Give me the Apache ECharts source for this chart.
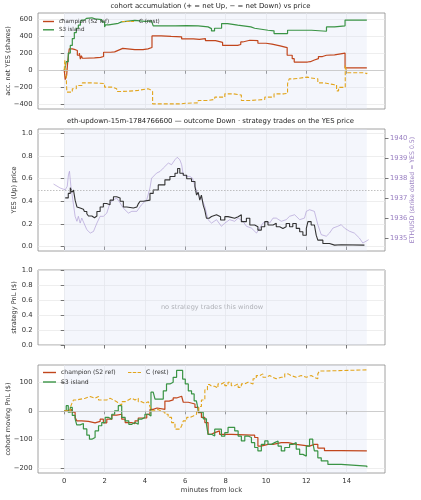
<!DOCTYPE html>
<html>
<head>
<meta charset="utf-8">
<script src="https://cdn.jsdelivr.net/npm/echarts@6/dist/echarts.min.js"></script>
<style>
html, body { margin: 0; padding: 0; background: #fff; }
#chart { width: 421px; height: 500px; }
</style>
</head>
<body>
<div id="chart"></div>
<script>
// ---- data (minutes from lock, value) ----
const minuteTicks = [0, 2, 4, 6, 8, 10, 12, 14];
const accTicks = [-400, -200, 0, 200, 400, 600];
const priceTicks = [0, 0.2, 0.4, 0.6, 0.8, 1.0];
const ethTicks = [1935, 1936, 1937, 1938, 1939, 1940];
const pnlTicks = [-200, -100, 0, 100];

// panel 1: accumulated net YES shares
const accChampion = [[0,0],[0.05,-110],[0.12,-60],[0.18,120],[0.25,250],[0.4,240],[0.55,230],[0.65,175],[0.75,200],[0.8,130],[0.85,170],[0.9,140],[1.0,145],[1.5,150],[1.8,160],[1.95,210],[2.3,215],[2.5,235],[2.7,255],[2.9,240],[3.5,240],[3.9,250],[4.15,265],[4.35,400],[4.8,395],[5.3,390],[5.82,365],[6.4,360],[6.7,370],[7.0,345],[7.5,325],[7.85,290],[8.6,300],[8.75,330],[8.85,350],[9.2,345],[9.6,315],[10.0,305],[10.3,285],[10.7,265],[11.05,175],[11.3,135],[11.4,96],[12.06,100],[12.2,120],[12.4,135],[12.6,160],[12.8,175],[13.0,180],[13.4,200],[13.92,28],[15.0,28]];
const accIsland = [[0,0],[0.05,40],[0.1,100],[0.2,200],[0.3,290],[0.4,370],[0.5,440],[0.6,490],[0.7,526],[0.8,560],[0.87,585],[1.0,605],[1.1,612],[1.37,600],[1.53,590],[1.86,565],[2.0,506],[2.05,530],[2.2,548],[2.68,565],[2.84,582],[3.5,570],[4.0,575],[4.33,580],[4.41,518],[5.5,520],[6.07,518],[6.64,506],[7.13,486],[7.3,459],[7.45,490],[7.8,545],[8.1,526],[8.6,506],[9.25,490],[9.44,467],[10.1,460],[10.4,428],[11.07,467],[12.26,455],[13.0,506],[13.4,518],[13.92,585],[15.0,580]];
const accRest = [[0,0],[0.03,116],[0.08,20],[0.13,-255],[0.3,-255],[0.4,-216],[0.6,-177],[0.9,-147],[1.37,-147],[1.45,-155],[2.0,-197],[2.4,-215],[2.6,-247],[2.85,-240],[3.5,-235],[3.66,-216],[4.15,-225],[4.25,-247],[4.38,-392],[5.75,-385],[6.0,-380],[6.64,-353],[7.13,-340],[7.46,-314],[7.96,-275],[8.4,-290],[8.78,-353],[9.2,-341],[9.94,-314],[10.4,-275],[10.9,-270],[11.07,-158],[11.15,-100],[11.4,-80],[12.06,-90],[12.2,-100],[12.57,-147],[12.9,-170],[13.4,-170],[13.5,-240],[13.6,-200],[13.93,57],[14.0,-29],[14.88,-40],[15.0,-30]];

// panel 2: YES price and ETH/USD
const yesPrice = [[0.05,0.43],[0.2,0.47],[0.3,0.52],[0.38,0.48],[0.46,0.50],[0.5,0.455],[0.54,0.41],[0.63,0.35],[0.7,0.34],[0.79,0.33],[0.95,0.34],[1.0,0.31],[1.12,0.29],[1.2,0.27],[1.37,0.255],[1.5,0.27],[1.62,0.31],[1.78,0.35],[1.94,0.38],[2.1,0.37],[2.27,0.41],[2.44,0.44],[2.6,0.43],[2.77,0.40],[2.93,0.35],[3.1,0.34],[3.43,0.35],[3.6,0.34],[3.68,0.38],[3.76,0.40],[3.92,0.41],[4.25,0.47],[4.41,0.50],[4.66,0.545],[4.99,0.59],[5.24,0.62],[5.49,0.648],[5.62,0.69],[5.73,0.648],[5.9,0.63],[6.07,0.60],[6.31,0.575],[6.48,0.53],[6.56,0.455],[6.64,0.48],[6.72,0.41],[6.8,0.455],[6.89,0.366],[6.97,0.32],[7.05,0.25],[7.18,0.265],[7.3,0.28],[7.55,0.264],[7.75,0.234],[7.96,0.264],[8.12,0.25],[8.45,0.264],[8.62,0.28],[8.78,0.22],[9.03,0.25],[9.2,0.19],[9.44,0.175],[9.6,0.145],[9.77,0.175],[9.94,0.22],[10.1,0.19],[10.35,0.205],[10.51,0.175],[10.68,0.16],[10.84,0.175],[11.0,0.204],[11.17,0.175],[11.33,0.204],[11.5,0.16],[11.67,0.13],[11.83,0.10],[12.0,0.16],[12.08,0.22],[12.24,0.19],[12.4,0.19],[12.49,0.10],[12.57,0.056],[12.82,0.027],[13.15,0.012],[13.4,0.015],[13.73,0.012],[14.88,0.008]];
const ethUsd = [[-0.53,1937.71],[-0.2,1937.51],[0.05,1937.42],[0.15,1937.6],[0.21,1938.17],[0.26,1938.35],[0.33,1937.6],[0.46,1936.67],[0.54,1936.09],[0.63,1935.84],[0.7,1936.09],[0.79,1935.75],[0.87,1936.0],[0.95,1935.9],[1.12,1935.42],[1.29,1935.25],[1.45,1935.33],[1.62,1935.75],[1.78,1936.09],[1.94,1936.09],[2.11,1936.25],[2.27,1936.76],[2.44,1936.92],[2.6,1937.0],[2.77,1936.76],[2.93,1936.5],[3.18,1936.25],[3.35,1936.34],[3.6,1936.34],[3.67,1936.42],[3.83,1936.67],[4.09,1936.92],[4.25,1937.51],[4.33,1938.0],[4.58,1938.26],[4.75,1938.34],[4.91,1938.51],[5.16,1938.76],[5.32,1938.68],[5.49,1938.93],[5.6,1939.05],[5.73,1938.93],[5.82,1938.68],[5.9,1938.17],[6.07,1938.09],[6.23,1938.09],[6.36,1938.0],[6.48,1937.59],[6.64,1937.17],[6.8,1937.0],[6.97,1936.59],[7.13,1935.92],[7.22,1936.0],[7.3,1935.75],[7.55,1935.92],[7.79,1935.59],[7.96,1935.75],[8.2,1935.92],[8.45,1935.84],[8.62,1936.0],[8.86,1935.84],[9.03,1935.59],[9.28,1935.5],[9.53,1935.25],[9.69,1935.5],[9.85,1935.75],[10.02,1935.84],[10.18,1935.75],[10.35,1936.0],[10.51,1936.0],[10.76,1935.84],[11.0,1935.92],[11.17,1936.09],[11.42,1936.17],[11.67,1935.92],[11.91,1936.0],[12.0,1936.34],[12.16,1936.42],[12.4,1936.34],[12.57,1935.67],[12.74,1935.17],[12.99,1935.09],[13.15,1935.25],[13.32,1935.5],[13.56,1935.59],[13.73,1935.67],[13.89,1935.5],[14.14,1935.34],[14.38,1935.25],[14.63,1935.0],[14.8,1934.75],[14.96,1934.84],[15.09,1934.92]];

// panel 4: cohort moving PnL ($)
const pnlChampion = [[0,0],[0.1,2],[0.21,4],[0.38,-5],[0.54,-23],[0.62,-35],[0.87,-37],[1.2,-42],[1.53,-37],[1.78,-29],[1.94,-42],[2.11,-29],[2.36,-15],[2.6,-12],[2.85,-29],[3.02,-41],[3.35,-45],[3.51,-35],[3.67,-25],[3.92,-25],[4.09,-12],[4.25,5],[4.41,10],[4.6,5],[4.99,34],[5.2,38],[5.4,45],[5.57,51],[5.82,45],[5.9,30],[6.15,24],[6.48,12],[6.64,-6],[6.8,-23],[6.97,-41],[7.13,-82],[7.3,-76],[7.46,-70],[7.7,-82],[8.3,-85],[9.28,-85],[9.44,-93],[9.6,-123],[9.75,-117],[10.1,-117],[10.35,-111],[10.76,-111],[11.1,-117],[11.5,-123],[12.16,-117],[12.4,-117],[12.57,-130],[12.9,-139],[13.73,-140],[15.0,-140]];
const pnlIsland = [[0,0],[0.1,18],[0.2,-5],[0.3,12],[0.4,-16],[0.54,-28],[0.62,-49],[0.79,-44],[0.95,-63],[1.12,-85],[1.25,-99],[1.37,-93],[1.53,-70],[1.7,-52],[1.86,-41],[2.03,-23],[2.2,-29],[2.36,-12],[2.5,0],[2.68,18],[2.85,-23],[3.02,-35],[3.2,-47],[3.35,-41],[3.5,-47],[3.67,-29],[3.83,-23],[4.0,-12],[4.17,-18],[4.3,65],[4.41,59],[4.5,41],[4.91,70],[5.07,94],[5.24,100],[5.4,117],[5.57,141],[5.87,111],[6.0,94],[6.15,70],[6.31,59],[6.44,35],[6.55,41],[6.6,18],[6.67,-5],[6.89,-28],[7.05,-47],[7.13,-82],[7.3,-88],[7.46,-64],[7.79,-88],[7.96,-76],[8.12,-58],[8.45,-70],[8.62,-88],[8.78,-105],[8.95,-88],[9.11,-93],[9.28,-111],[9.44,-128],[9.6,-140],[9.77,-117],[9.94,-105],[10.1,-117],[10.27,-111],[10.43,-105],[10.6,-123],[10.76,-140],[10.93,-128],[11.17,-117],[11.33,-111],[11.5,-134],[11.67,-152],[11.83,-158],[12.0,-123],[12.16,-99],[12.32,-111],[12.4,-140],[12.57,-164],[12.74,-175],[13.07,-187],[13.73,-193],[15.0,-197]];
const pnlRest = [[0,0],[0.13,3],[0.2,-5],[0.3,12],[0.38,26],[0.46,38],[0.62,44],[1.04,50],[1.29,44],[1.53,50],[1.7,38],[2.11,44],[2.27,38],[2.44,32],[2.6,26],[2.7,20],[2.85,32],[3.02,38],[3.18,44],[3.35,38],[3.51,44],[3.67,32],[3.83,26],[4.0,32],[4.17,26],[4.25,15],[4.33,0],[4.5,5],[4.65,0],[4.8,-5],[4.99,-12],[5.15,-23],[5.32,-41],[5.49,-64],[5.73,-70],[5.82,-52],[5.9,-35],[6.07,-23],[6.23,-18],[6.4,-12],[6.56,0],[6.67,15],[6.8,38],[6.97,73],[7.1,92],[7.2,86],[7.3,86],[7.45,80],[7.62,94],[7.79,100],[7.96,88],[8.12,100],[8.28,88],[8.45,94],[8.62,82],[8.78,94],[8.95,100],[9.11,105],[9.2,94],[9.36,112],[9.52,123],[9.69,129],[9.85,117],[10.02,123],[10.18,117],[10.35,112],[10.51,117],[10.76,117],[10.93,129],[11.1,123],[11.25,117],[11.5,123],[11.75,117],[12.0,123],[12.24,117],[12.4,112],[12.57,129],[12.65,139],[12.9,143],[15.0,143]];

// ---- styling ----
const FONT = 'DejaVu Sans';
const C_CHAMP = '#c1461c';
const C_ISLAND = '#3a9445';
const C_REST = '#e2a51d';
const C_ETH = '#a58fcf';
const C_ETH_TXT = '#9a80c2';
const SHADE = 'rgba(222,226,245,0.32)';
const xMin = -1.3, xMax = 15.9;

const minus = v => String(v).replace('-', '\u2212');

function grid(top, height) {
    return { left: 38, right: 36, top: top, height: height, show: true, borderColor: '#8a8a8a',
        borderWidth: 0.8, backgroundColor: 'transparent', containLabel: false, outerBoundsMode: 'none' };
}
function xAx(idx, last) {
    return {
        type: 'value', gridIndex: idx, min: xMin, max: xMax,
        axisLine: { show: false },
        axisTick: { show: true, length: 3.5, customValues: minuteTicks, lineStyle: { color: '#555', width: 0.8 } },
        axisLabel: { show: last, customValues: minuteTicks, margin: 5, fontSize: 6.8, color: '#333', fontFamily: FONT },
        splitLine: { show: true, lineStyle: { color: '#e6e6e6', width: 0.7 } },
        name: last ? 'minutes from lock' : '', nameLocation: 'middle', nameGap: 14, nameMoveOverlap: false,
        nameTextStyle: { fontSize: 6.8, color: '#333', fontFamily: FONT }
    };
}
function yAx(idx, min, max, ticks, name, gap, fmt) {
    return {
        type: 'value', gridIndex: idx, min: min, max: max,
        axisLine: { show: false },
        axisTick: { show: true, length: 3.5, customValues: ticks, lineStyle: { color: '#555', width: 0.8 } },
        axisLabel: { customValues: ticks, margin: 5.5, fontSize: 6.8, color: '#333', fontFamily: FONT, formatter: fmt },
        splitLine: { show: true, lineStyle: { color: '#e6e6e6', width: 0.7 } },
        name: name, nameLocation: 'middle', nameGap: gap, nameMoveOverlap: false,
        nameTextStyle: { fontSize: 6.6, color: '#333', fontFamily: FONT }
    };
}
function shade() {
    return { silent: true, itemStyle: { color: SHADE }, data: [[{ xAxis: 0 }, { xAxis: 15 }]] };
}
function zeroLine(y, color, type) {
    return { silent: true, symbol: 'none', label: { show: false },
        lineStyle: { color: color, width: 0.8, type: type }, data: [{ yAxis: y }] };
}
function line(name, data, xi, yi, color, width, type, extra) {
    return Object.assign({
        name: name, type: 'line', xAxisIndex: xi, yAxisIndex: yi, data: data,
        step: 'end', showSymbol: false, symbol: 'none', animation: false,
        lineStyle: { color: color, width: width, type: type || 'solid' },
        itemStyle: { color: color }
    }, extra || {});
}
// legend icons drawn as flat bars (solid) or a row of dashes
const DASH_ICON = 'path://M0,0h3.6v1h-3.6z M5,0h3.6v1h-3.6z M10,0h3.6v1h-3.6z';
function legendBox(names, left, top, w, fs, gap, icon) {
    return { data: names, orient: 'vertical', left: left, top: top, padding: 0, itemWidth: w, itemHeight: 1.4,
        icon: icon, itemGap: gap, selectedMode: false,
        textStyle: { fontSize: fs, color: '#333', fontFamily: FONT, lineHeight: 7 } };
}

const chart = echarts.init(document.getElementById('chart'));
chart.setOption({
    animation: false,
    backgroundColor: '#fff',
    textStyle: { fontFamily: FONT },
    title: [
        { text: 'cohort accumulation (+ = net Up, \u2212 = net Down) vs price', left: 'center', top: 3, padding: 0,
          textStyle: { fontSize: 6.9, fontWeight: 'normal', color: '#222', fontFamily: FONT } },
        { text: 'eth-updown-15m-1784766600 \u2014 outcome Down \u00b7 strategy trades on the YES price', left: 'center', top: 118, padding: 0,
          textStyle: { fontSize: 6.9, fontWeight: 'normal', color: '#222', fontFamily: FONT } }
    ],
    legend: [
        legendBox(['champion (S2 ref)', 'S3 island'], 43, 18, 11, 5.6, 1.3, 'rect'),
        legendBox(['C (rest)'], 122, 18, 12, 5.6, 1.3, DASH_ICON),
        legendBox(['champion (S2 ref)', 'S3 island'], 43, 369, 13, 6.1, 2.5, 'rect'),
        legendBox(['C (rest)'], 128, 369, 13, 6.1, 2.5, DASH_ICON)
    ],
    grid: [grid(13, 96), grid(129, 122), grid(270, 75), grid(365, 108)],
    xAxis: [xAx(0, false), xAx(1, false), xAx(2, false), xAx(3, true)],
    yAxis: [
        yAx(0, -452, 668, accTicks, 'acc. net YES (shares)', 26, minus),
        yAx(1, -0.04, 1.04, priceTicks, 'YES (Up) price', 20, v => v.toFixed(1)),
        Object.assign(yAx(1, 1934.35, 1940.47, ethTicks, 'ETH/USD (strike dotted = YES 0.5)', 24, null), {
            position: 'right',
            splitLine: { show: false },
            axisLabel: { customValues: ethTicks, margin: 5, fontSize: 6.8, color: C_ETH_TXT, fontFamily: FONT,
                         formatter: v => String(Math.round(v)) },
            nameTextStyle: { fontSize: 6.2, color: C_ETH_TXT, fontFamily: FONT }
        }),
        yAx(2, 0, 1, priceTicks, 'strategy PnL ($)', 20, v => v.toFixed(1)),
        yAx(3, -217, 160, pnlTicks, 'cohort moving PnL ($)', 26, minus)
    ],
    graphic: [
        { type: 'text', x: 212, y: 307, silent: true,
          style: { text: 'no strategy trades this window', fill: '#999', font: '6.6px "DejaVu Sans"',
                   textAlign: 'center', textVerticalAlign: 'middle' } }
    ],
    series: [
        line('champion (S2 ref)', accChampion, 0, 0, C_CHAMP, 1.2, 'solid',
            { markArea: shade(), markLine: zeroLine(0, '#c4c4c4', 'solid') }),
        line('S3 island', accIsland, 0, 0, C_ISLAND, 1.2),
        line('C (rest)', accRest, 0, 0, C_REST, 1.1, [4, 2]),

        line('ETH/USD', ethUsd, 1, 2, C_ETH, 0.9, 'solid',
            { step: false, lineStyle: { color: C_ETH, width: 0.9, opacity: 0.65 }, markArea: shade() }),
        line('YES price', yesPrice, 1, 1, '#333', 1.1, 'solid',
            { markLine: zeroLine(0.5, '#b0b0b0', [1.5, 1.5]) }),

        { type: 'line', xAxisIndex: 2, yAxisIndex: 3, data: [], markArea: shade() },

        line('champion (S2 ref)', pnlChampion, 3, 4, C_CHAMP, 1.2, 'solid',
            { markArea: shade(), markLine: zeroLine(0, '#c4c4c4', 'solid') }),
        line('S3 island', pnlIsland, 3, 4, C_ISLAND, 1.2),
        line('C (rest)', pnlRest, 3, 4, C_REST, 1.1, [4, 2])
    ]
});
</script>
</body>
</html>
